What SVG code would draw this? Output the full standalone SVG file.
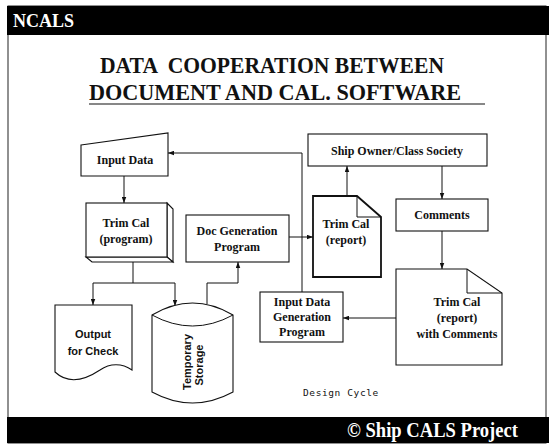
<svg xmlns="http://www.w3.org/2000/svg" width="549" height="447" viewBox="0 0 549 447">
<style>
.bg{fill:#fff}
.sh{fill:#fff;stroke:#111;stroke-width:1.1}
.bold{stroke-width:1.8}
.ln{fill:none;stroke:#111;stroke-width:1}
.t{font-family:"Liberation Serif","Times New Roman",serif;font-weight:bold;font-size:12px;fill:#111;text-anchor:middle}
.s{font-family:"Liberation Sans",Arial,sans-serif;font-weight:bold;font-size:11px;fill:#111;text-anchor:middle}
.title{font-family:"Liberation Serif","Times New Roman",serif;font-weight:bold;font-size:24px;fill:#111;white-space:pre}
</style>
<defs>
<marker id="ah" viewBox="0 0 8 6" refX="8" refY="3" markerWidth="6" markerHeight="5" orient="auto" markerUnits="userSpaceOnUse">
<path d="M0,0 L8,3 L0,6 Z" fill="#111"/>
</marker>
</defs>
<rect class="bg" x="0" y="0" width="549" height="447"/>
<g id="frame">
<rect x="8" y="6" width="538" height="437" fill="none" stroke="#222" stroke-width="1"/>
<rect x="7" y="6" width="542" height="29" fill="#000"/>
<rect x="7" y="417" width="542" height="26" fill="#000"/>
<text x="13" y="27" font-family="Liberation Serif,Times New Roman,serif" font-weight="bold" font-size="18" fill="#fff">NCALS</text>
<text x="347" y="437" font-family="Liberation Serif,Times New Roman,serif" font-weight="bold" font-size="20" fill="#fff" textLength="171" lengthAdjust="spacingAndGlyphs">© Ship CALS  Project</text>
</g>
<g id="title">
<text class="title" x="100" y="73" textLength="344" lengthAdjust="spacingAndGlyphs">DATA  COOPERATION BETWEEN</text>
<text class="title" x="89" y="100" textLength="372" lengthAdjust="spacingAndGlyphs">DOCUMENT AND CAL. SOFTWARE</text>
<line x1="89" y1="104" x2="485" y2="104" stroke="#111" stroke-width="1.2"/>
</g>
<g id="connectors">
<path class="ln" d="M124,176 V203" marker-end="url(#ah)"/>
<path class="ln" d="M133,262 V283"/>
<path class="ln" d="M133,283 H93 V305" marker-end="url(#ah)"/>
<path class="ln" d="M133,283 H175 V306" marker-end="url(#ah)"/>
<path class="ln" d="M207,304 V283 H238 V262" marker-end="url(#ah)"/>
<path class="ln" d="M289,237 H313" marker-end="url(#ah)"/>
<path class="ln" d="M302,292 V153 H168" marker-end="url(#ah)"/>
<path class="ln" d="M347,196 V166" marker-end="url(#ah)"/>
<path class="ln" d="M442,166 V199" marker-end="url(#ah)"/>
<path class="ln" d="M442,231 V269" marker-end="url(#ah)"/>
<path class="ln" d="M396,318 H343" marker-end="url(#ah)"/>
</g>
<g id="input-data">
<polygon class="sh" points="81,145 168,133 168,176 81,176"/>
<text class="t" x="125" y="164">Input Data</text>
</g>
<g id="trim-cal-program">
<polygon class="sh" points="167,203 173,209 173,262 167,257"/>
<polygon class="sh" points="86,257 167,257 173,262 92,262"/>
<rect class="sh" x="86" y="203" width="81" height="54"/>
<text class="t" x="126" y="227">Trim Cal</text>
<text class="t" x="126" y="243">(program)</text>
</g>
<g id="doc-generation">
<rect class="sh" x="186" y="215" width="103" height="47"/>
<text class="t" x="237" y="235">Doc Generation</text>
<text class="t" x="237" y="251">Program</text>
</g>
<g id="trim-cal-report">
<path class="sh bold" d="M313,196 H357 L381,217 V277 H313 Z"/>
<path class="ln" d="M357,196 V217 H381" stroke-width="1.5"/>
<text class="t" x="346" y="228">Trim Cal</text>
<text class="t" x="346" y="244">(report)</text>
</g>
<g id="ship-owner">
<rect class="sh" x="308" y="134" width="179" height="32"/>
<text class="t" x="397" y="155">Ship Owner/Class Society</text>
</g>
<g id="comments">
<rect class="sh" x="396" y="199" width="92" height="32"/>
<text class="t" x="442" y="219">Comments</text>
</g>
<g id="trim-cal-comments">
<path class="sh" d="M396,269 H467 L502,293 V365 H396 Z" stroke-width="1.5"/>
<path class="ln" d="M467,269 V293 H502" stroke-width="1.3"/>
<text class="t" x="457" y="306">Trim Cal</text>
<text class="t" x="457" y="322">(report)</text>
<text class="t" x="457" y="338">with Comments</text>
</g>
<g id="input-data-generation">
<rect class="sh" x="260" y="292" width="83" height="50"/>
<text class="t" x="302" y="306">Input Data</text>
<text class="t" x="302" y="321">Generation</text>
<text class="t" x="302" y="336">Program</text>
</g>
<g id="output-check">
<path class="sh" d="M55,305 H132 V370 C122,363 110,363 100,370 C88,378 70,386 55,372 Z"/>
<text class="s" x="93" y="338">Output</text>
<text class="s" x="93" y="355">for Check</text>
</g>
<g id="temporary-storage">
<path class="sh" d="M152,315 Q192.5,291 233,315 V392 Q192.5,414 152,392 Z"/>
<path class="ln" d="M152,315 Q192.5,337 233,315"/>
<text class="s" font-size="12" transform="translate(191,362) rotate(-90)">Temporary</text>
<text class="s" font-size="12" transform="translate(203,365) rotate(-90)">Storage</text>
</g>
<g id="design-cycle">
<text x="303" y="396" font-family="DejaVu Sans Mono,Liberation Mono,monospace" font-size="9.5" fill="#111" letter-spacing="0.6">Design Cycle</text>
</g>
</svg>
